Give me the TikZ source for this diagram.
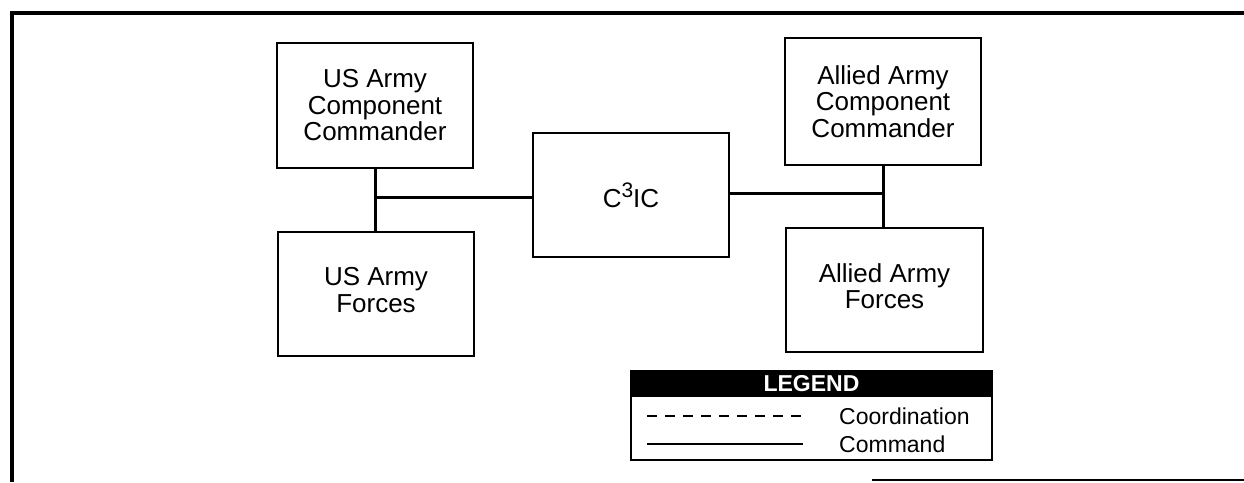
\documentclass[tikz,border=0pt]{standalone}
\usepackage{fontspec}
\setmainfont{Liberation Sans}
\begin{document}
\begin{tikzpicture}[x=1pt,y=-1pt,
  box/.style={draw,line width=1.8pt,inner sep=0pt,align=center,
    font=\fontsize{26}{26.5}\selectfont},
  boxtext/.style={inner sep=0pt,align=center,font=\fontsize{26}{26.5}\selectfont},
  conn/.style={line width=3pt},
  legtext/.style={anchor=west,inner sep=0pt,font=\fontsize{23}{24}\selectfont}]
\useasboundingbox (0,0) rectangle (1244,482);
% outer frame (partly visible)
\draw[line width=4pt] (12,482) -- (12,13) -- (1244,13);
\draw[line width=2pt] (872,480) -- (1244,480);
% boxes
\node[box,minimum width=196,minimum height=125] (usc) at (375,105.5) {US Army\\Component\\Commander};
\node[box,minimum width=196,minimum height=124] (usf) at (376,294) {};
\node[boxtext] (usft) at (376,290) {US Army\\Forces};
\node[box,minimum width=196,minimum height=124] (c3) at (631,195) {C\raisebox{10pt}{\fontsize{21}{21}\selectfont 3}IC};
\node[box,minimum width=196,minimum height=127] (alc) at (883,101.5) {Allied Army\\Component\\Commander};
\node[box,minimum width=197,minimum height=124] (alf) at (884.5,290) {};
\node[boxtext] (alft) at (884.5,286) {Allied Army\\Forces};
% connectors
\draw[conn] (usc.south) -- (usf.north -| usc.south);
\draw[conn] (alc.south) -- (alf.north -| alc.south);
\draw[conn] ([yshift=-2pt]c3.west) -- ([yshift=-2pt]c3.west -| usc.south);
\draw[conn] ([yshift=2pt]c3.east) -- ([yshift=2pt]c3.east -| alc.south);
% legend
\node[draw,line width=1.5pt,minimum width=361,minimum height=89,inner sep=0pt] (leg) at (811.5,415.5) {};
\node[fill=black,text=white,minimum width=361,minimum height=27,inner sep=0pt,anchor=north,
  font=\fontsize{23}{24}\selectfont\bfseries] (legh) at (leg.north) {LEGEND};
\coordinate (d1) at (647,416);
\coordinate (d2) at (803,416);
\coordinate (s1) at (647,444);
\coordinate (s2) at (803,444);
\draw[line width=1.5pt,dash pattern=on 10pt off 8pt] (d1) -- (d2);
\draw[line width=1.5pt] (s1) -- (s2);
\node[legtext] (lc) at (839,416) {Coordination};
\node[legtext] (lm) at (839,444) {Command};
\end{tikzpicture}
\end{document}
